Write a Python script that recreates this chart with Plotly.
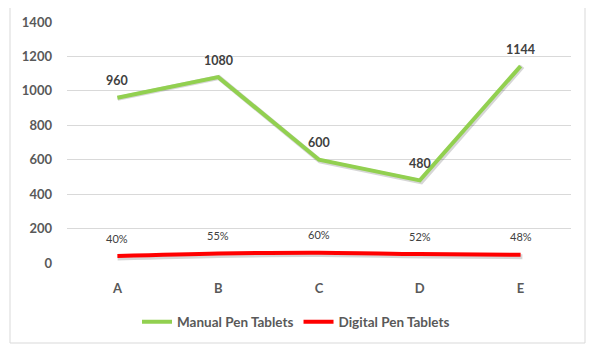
import plotly.graph_objects as go

categories = ["A", "B", "C", "D", "E"]
manual_values = [960, 1080, 600, 480, 1144]
digital_values = [40, 55, 60, 52, 48]
digital_labels = ["40%", "55%", "60%", "52%", "48%"]
y_ticks = [0, 200, 400, 600, 800, 1000, 1200, 1400]

GREEN = "#92D050"
RED = "#FF0000"
TXT = "#595959"
FONT = "Lato"

# page body has an 8px margin; compensate so the plot sits where the reference has it
OFF = 8
W, H = 598 - OFF, 357 - OFF
L, R, T, B = 67 - OFF, 27, 22 - OFF, 94
PW, PH = W - L - R, H - T - B  # 504 x 241

def px_x(x):
    return (x - 67) / PW

def px_y(y):
    return (263 - y) / PH

SH = 2  # shadow offset in px
fig = go.Figure()
# base axes (grid + ticks) carry an invisible trace so categories are set
fig.add_trace(go.Scatter(x=categories, y=manual_values, mode="lines", showlegend=False,
                         hoverinfo="skip", line=dict(color="rgba(0,0,0,0)", width=0)))
# soft drop shadows on an overlaid axis pair shifted SH px right and down
for vals, shape in ((manual_values, "linear"), (digital_values, "spline")):
    fig.add_trace(go.Scatter(x=categories, y=vals, mode="lines", xaxis="x2", yaxis="y2",
                             showlegend=False, hoverinfo="skip",
                             line=dict(color="rgba(0,0,0,0.16)", width=5, shape=shape)))
# main series on top
fig.add_trace(go.Scatter(x=categories, y=manual_values, mode="lines", xaxis="x3", yaxis="y3",
                         name="Manual Pen Tablets",
                         line=dict(color=GREEN, width=4)))
fig.add_trace(go.Scatter(x=categories, y=digital_values, mode="lines", xaxis="x3", yaxis="y3",
                         name="Digital Pen Tablets",
                         line=dict(color=RED, width=4, shape="spline")))

annotations = []
for c, v in zip(categories, manual_values):
    annotations.append(dict(x=c, y=v, text=str(v), showarrow=False, yshift=17,
                            font=dict(family=FONT, size=12.5, color="#404040", weight="bold")))
for c, v, t in zip(categories, digital_values, digital_labels):
    annotations.append(dict(x=c, y=v, text=t, showarrow=False, yshift=18,
                            font=dict(family=FONT, size=11, color="#404040")))

fig.update_layout(
    width=W, height=H, autosize=False,
    margin=dict(l=L, r=R, t=T, b=B, autoexpand=False),
    paper_bgcolor="white", plot_bgcolor="white",
    showlegend=True,
    legend=dict(orientation="h", x=px_x(296), xanchor="center",
                y=px_y(322), yanchor="middle",
                font=dict(family=FONT, size=13.5, color=TXT, weight="bold"),
                itemwidth=30, tracegroupgap=0),
    xaxis=dict(type="category", range=[-0.5, 4.5], showgrid=False, zeroline=False,
               showline=False, ticks="", ticklen=0, automargin=False,
               ticklabelstandoff=16,
               tickfont=dict(family=FONT, size=13, color=TXT, weight="bold")),
    yaxis=dict(range=[0, 1400], tickvals=y_ticks, showgrid=True, gridcolor="#D9D9D9",
               gridwidth=1, zeroline=False, showline=False, ticks="", ticklabelstandoff=14,
               automargin=False,
               tickfont=dict(family=FONT, size=13, color=TXT, weight="bold")),
    xaxis2=dict(type="category", range=[-0.5, 4.5 - SH * 5 / PW], domain=[SH / PW, 1],
                anchor="y2", overlaying="x", visible=False),
    yaxis2=dict(range=[SH * 1400 / PH, 1400], domain=[0, 1 - SH / PH],
                anchor="x2", overlaying="y", visible=False),
    xaxis3=dict(type="category", range=[-0.5, 4.5], anchor="y3", overlaying="x",
                visible=False),
    yaxis3=dict(range=[0, 1400], anchor="x3", overlaying="y", visible=False),
    annotations=annotations,
    shapes=[dict(type="rect", xref="paper", yref="paper",
                 x0=px_x(10), x1=px_x(585),
                 y0=px_y(343), y1=px_y(7),
                 line=dict(color="#D9D9D9", width=1), layer="below")],
)

fig.write_html("out.html")
